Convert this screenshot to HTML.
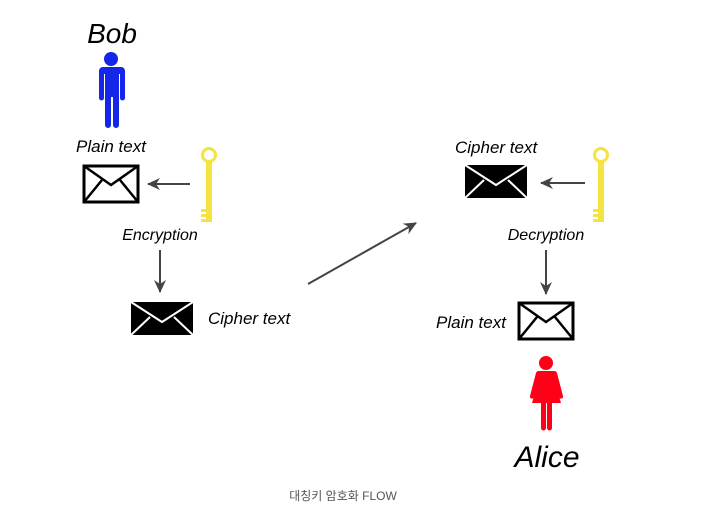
<!DOCTYPE html>
<html><head><meta charset="utf-8"><style>
html,body{margin:0;padding:0;background:#fff;width:719px;height:510px;overflow:hidden}
text{font-family:"Liberation Sans","Noto Sans CJK KR",sans-serif;font-style:italic}
</style></head><body>
<svg width="719" height="510" viewBox="0 0 719 510" xmlns="http://www.w3.org/2000/svg">
<defs>
<marker id="a" markerWidth="13" markerHeight="12" refX="12" refY="6" orient="auto" markerUnits="userSpaceOnUse">
<path d="M0,0 L13,6 L0,12 L4,6 Z" fill="#444"/></marker>
<g id="key" fill="#f5e342">
<circle cx="0" cy="0" r="6.5" fill="none" stroke="#f5e342" stroke-width="3"/>
<rect x="-3" y="6" width="6" height="61"/>
<rect x="-8" y="54" width="6" height="3"/>
<rect x="-8" y="59" width="6" height="3"/>
<rect x="-8" y="64" width="6" height="3"/>
</g>
</defs>
<text x="112" y="43" font-size="28" text-anchor="middle">Bob</text>
<g fill="#1426e8">
<circle cx="111" cy="59" r="7"/>
<path d="M101,67 h20 a4,4 0 0 1 4,4 v27 a2.5,2.5 0 0 1 -5,0 v-24 h-1 v51 a3,3 0 0 1 -6,0 v-28 h-2 v28 a3,3 0 0 1 -6,0 v-51 h-1 v24 a2.5,2.5 0 0 1 -5,0 v-27 a4,4 0 0 1 4,-4z"/>
</g>
<text x="76" y="152" font-size="17">Plain text</text>
<rect x="84" y="166" width="54" height="36" fill="#fff" stroke="#000" stroke-width="3"/>
<path d="M84,166 L111,185 L138,166 M84,202 L102,180 M138,202 L120,180" fill="none" stroke="#000" stroke-width="2.5"/>
<line x1="190" y1="184" x2="148" y2="184" stroke="#444" stroke-width="2" marker-end="url(#a)"/>
<use href="#key" x="209" y="155"/>
<text x="160" y="240" font-size="16" text-anchor="middle">Encryption</text>
<line x1="160" y1="250" x2="160" y2="292" stroke="#444" stroke-width="2" marker-end="url(#a)"/>
<rect x="131" y="302" width="62" height="33" fill="#000"/>
<path d="M131,302 L162,322 L193,302 M131,335 L150,317 M193,335 L174,317" fill="none" stroke="#fff" stroke-width="2"/>
<text x="208" y="324" font-size="17">Cipher text</text>
<line x1="308" y1="284" x2="416" y2="223" stroke="#444" stroke-width="2" marker-end="url(#a)"/>
<text x="455" y="153" font-size="17">Cipher text</text>
<rect x="465" y="165" width="62" height="33" fill="#000"/>
<path d="M465,165 L496,185 L527,165 M465,198 L484,180 M527,198 L508,180" fill="none" stroke="#fff" stroke-width="2"/>
<line x1="585" y1="183" x2="541" y2="183" stroke="#444" stroke-width="2" marker-end="url(#a)"/>
<use href="#key" x="601" y="155"/>
<text x="546" y="240" font-size="16" text-anchor="middle">Decryption</text>
<line x1="546" y1="250" x2="546" y2="294" stroke="#444" stroke-width="2" marker-end="url(#a)"/>
<rect x="519" y="303" width="54" height="36" fill="#fff" stroke="#000" stroke-width="3"/>
<path d="M519,303 L546,322 L573,303 M519,339 L537,317 M573,339 L555,317" fill="none" stroke="#000" stroke-width="2.5"/>
<text x="436" y="328" font-size="17">Plain text</text>
<g fill="#ff0019">
<circle cx="546" cy="363" r="7"/>
<path d="M538,371 h16 a3,3 0 0 1 3,2 l6,23 a2,2 0 0 1 -4,1 l-5,-18 l7,24 h-9 v25 a2.5,2.5 0 0 1 -5,0 v-25 h-1 v25 a2.5,2.5 0 0 1 -5,0 v-25 h-9 l7,-24 l-5,18 a2,2 0 0 1 -4,-1 l6,-23 a3,3 0 0 1 3,-2z"/>
</g>
<text x="547" y="467" font-size="30" text-anchor="middle">Alice</text>
<text x="343" y="500" font-size="12" fill="#555" text-anchor="middle" style="font-style:normal">대칭키 암호화 FLOW</text>
</svg>
</body></html>
